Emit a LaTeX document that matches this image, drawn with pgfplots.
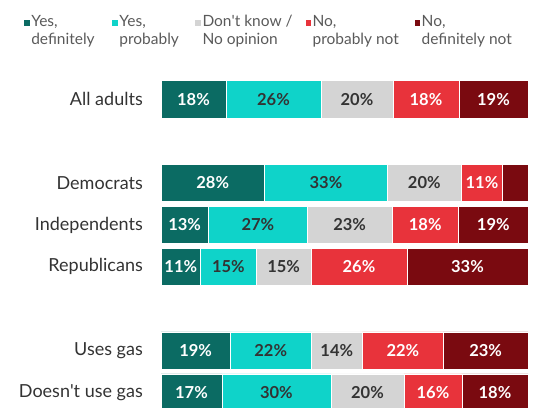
\documentclass[border=0pt]{standalone}
\usepackage{pgfplots}
\usepackage{pgfplotstable}
\usepackage{fontspec}
\setmainfont{Lato}
\pgfplotsset{compat=1.18}
\definecolor{c1}{HTML}{0B6B63}
\definecolor{c2}{HTML}{0FD3C9}
\definecolor{c3}{HTML}{D4D4D4}
\definecolor{c4}{HTML}{E8333B}
\definecolor{c5}{HTML}{7A0A10}
\definecolor{txt}{HTML}{333333}
\definecolor{leg}{HTML}{5A5A5A}

\pgfplotstableread{
y a b c d e la lb lc ld le
0 17.7 25.9 19.6 18.0 18.8 18\% 26\% 20\% 18\% 19\%
2 28.2 33.5 20.1 11.3 6.9 28\% 33\% 20\% 11\% {}
3 12.9 27.0 23.0 18.2 18.9 13\% 27\% 23\% 18\% 19\%
4 10.8 15.1 15.0 26.1 33.0 11\% 15\% 15\% 26\% 33\%
6 18.9 22.0 14.0 22.0 23.1 19\% 22\% 14\% 22\% 23\%
7 16.6 29.7 19.9 15.8 18.0 17\% 30\% 20\% 16\% 18\%
}\data

\pgfplotsset{
  base/.style={
    at={(161pt,0pt)}, anchor=south west,
    scale only axis, width=367pt, height=328.7pt,
    xmin=0, xmax=100, ymin=-0.5, ymax=7.346, y dir=reverse,
    enlargelimits=false, axis line style={draw=none},
    xtick=\empty, clip=false,
  },
  lab/.style={draw=none, mark=none, nodes near coords, point meta=explicit symbolic,
    every node near coord/.style={anchor=center, font=\fontsize{16.5}{18}\selectfont\bfseries, text=#1}},
}
\newcommand{\legtext}[2]{\parbox[t]{#1}{#2}}

\begin{document}
\begin{tikzpicture}
\useasboundingbox (0,0) rectangle (537pt,407pt);
\begin{axis}[base,
  xbar stacked, bar width=37.3pt,
  ytick={0,2,3,4,6,7},
  yticklabels={All adults, Democrats, Independents, Republicans, Uses gas, Doesn\textquotesingle t use gas},
  ytick style={draw=none},
  yticklabel style={font=\fontsize{18}{20}\selectfont, text=txt, inner sep=0pt, xshift=-18pt},
  legend columns=5,
  legend style={at={(axis description cs:0,1)}, anchor=north west, xshift=-141pt, yshift=66pt,
    draw=none, fill=none, font=\fontsize{15.5}{17.5}\selectfont, text=leg,
    cells={anchor=base west},
    nodes={align=left, inner sep=1pt},
    /tikz/every even column/.append style={column sep=0pt}},
  legend image code/.code={\fill[#1] (0pt,0.8pt) rectangle (6.5pt,7.3pt);},
]
\addplot[fill=c1, draw=white, line width=0.6pt] table[x=a, y=y] {\data};
\addlegendentry{\legtext{79pt}{Yes,\\definitely}}
\addplot[fill=c2, draw=white, line width=0.6pt] table[x=b, y=y] {\data};
\addlegendentry{\legtext{74pt}{Yes,\\probably}}
\addplot[fill=c3, draw=white, line width=0.6pt] table[x=c, y=y] {\data};
\addlegendentry{\legtext{101pt}{Don\textquotesingle t know /\\No opinion}}
\addplot[fill=c4, draw=white, line width=0.6pt] table[x=d, y=y] {\data};
\addlegendentry{\legtext{100pt}{No,\\probably not}}
\addplot[fill=c5, draw=white, line width=0.6pt] table[x=e, y=y] {\data};
\addlegendentry{\legtext{95pt}{No,\\definitely not}}
\end{axis}
\begin{axis}[base, hide axis]
\addplot[lab=white] table[x expr=\thisrow{a}/2, y=y, meta=la] {\data};
\addplot[lab=txt] table[x expr=\thisrow{a}+\thisrow{b}/2, y=y, meta=lb] {\data};
\addplot[lab=txt] table[x expr=\thisrow{a}+\thisrow{b}+\thisrow{c}/2, y=y, meta=lc] {\data};
\addplot[lab=white] table[x expr=\thisrow{a}+\thisrow{b}+\thisrow{c}+\thisrow{d}/2, y=y, meta=ld] {\data};
\addplot[lab=white] table[x expr=\thisrow{a}+\thisrow{b}+\thisrow{c}+\thisrow{d}+\thisrow{e}/2, y=y, meta=le] {\data};
\end{axis}
\end{tikzpicture}
\end{document}
